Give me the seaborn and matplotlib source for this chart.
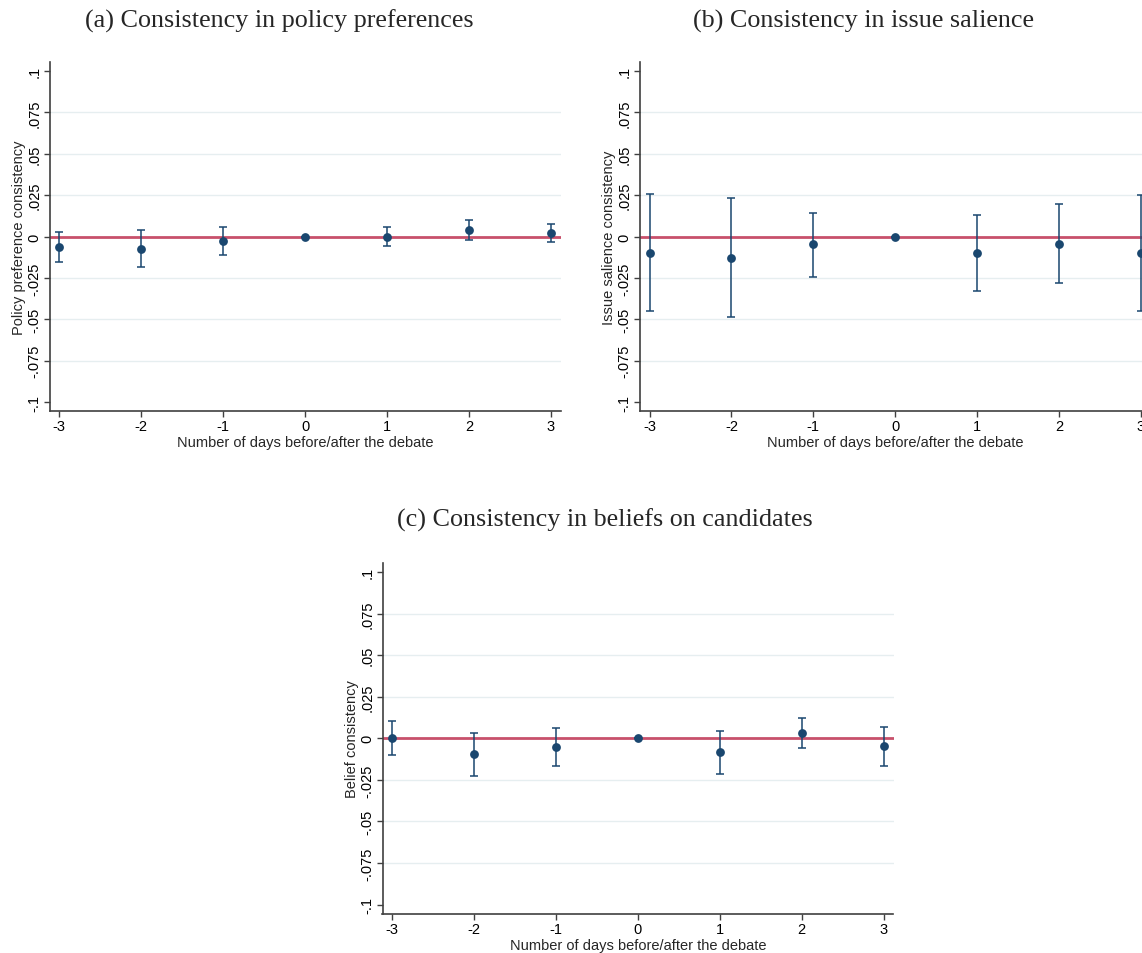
import numpy as np
import pandas as pd
import matplotlib
matplotlib.use("Agg")
import matplotlib.pyplot as plt
import seaborn as sns

# Giorni rispetto al dibattito
days = [-3, -2, -1, 0, 1, 2, 3]

# (a) coerenza nelle preferenze politiche
policy_coef = [-0.0063, -0.0075, -0.0026, 0.0, 0.0, 0.0038, 0.0020]
policy_lo = [-0.0155, -0.0185, -0.0113, 0.0, -0.0058, -0.0024, -0.0034]
policy_hi = [0.0030, 0.0038, 0.0060, 0.0, 0.0058, 0.0099, 0.0075]

# (b) coerenza nella salienza dei temi
salience_coef = [-0.0097, -0.0127, -0.0048, 0.0, -0.0099, -0.0044, -0.0099]
salience_lo = [-0.0450, -0.0484, -0.0242, 0.0, -0.0329, -0.0280, -0.0450]
salience_hi = [0.0256, 0.0234, 0.0143, 0.0, 0.0131, 0.0194, 0.0250]

# (c) coerenza nelle opinioni sui candidati
belief_coef = [0.0002, -0.0097, -0.0054, 0.0, -0.0085, 0.0032, -0.0048]
belief_lo = [-0.0101, -0.0228, -0.0167, 0.0, -0.0214, -0.0060, -0.0167]
belief_hi = [0.0105, 0.0034, 0.0060, 0.0, 0.0046, 0.0123, 0.0070]

y_ticks = [-0.1, -0.075, -0.05, -0.025, 0.0, 0.025, 0.05, 0.075, 0.1]
y_tick_labels = ["-.1", "-.075", "-.05", "-.025", "0", ".025", ".05", ".075", ".1"]

NAVY = "#1a476f"
RED = "#c8506b"
GRID = "#e6eef0"

W, H = 1142, 954
FS = 10.5

sns.set_theme(style="ticks")
plt.rcParams["font.family"] = ["Liberation Sans", "DejaVu Sans"]


def px_axes(fig, x0, y0, x1, y1):
    """Crea un asse a partire da coordinate in pixel (origine in alto a sinistra)."""
    return fig.add_axes([x0 / W, 1 - y1 / H, (x1 - x0) / W, (y1 - y0) / H])


def draw_panel(ax, coef, lo, hi, ylabel):
    df = pd.DataFrame({"day": days, "coef": coef, "lo": lo, "hi": hi})

    # linee di griglia orizzontali (solo interne)
    for t in y_ticks[1:-1]:
        if t != 0:
            ax.axhline(t, color=GRID, lw=1.0, zorder=0)
    ax.axhline(0, color=RED, lw=2.0, zorder=1)

    err = np.vstack([df["coef"] - df["lo"], df["hi"] - df["coef"]])
    ax.errorbar(df["day"], df["coef"], yerr=err, fmt="none",
                ecolor=NAVY, elinewidth=1.1, capsize=3, capthick=1.1, zorder=2)
    sns.scatterplot(data=df, x="day", y="coef", ax=ax, color=NAVY, s=40,
                    edgecolor=NAVY, linewidth=0, zorder=3, legend=False)

    ax.set_xlim(-3.116, 3.122)
    ax.set_ylim(-0.1054, 0.1054)
    ax.set_xticks(days)
    ax.set_xticklabels([str(d) for d in days])
    ax.set_yticks(y_ticks)
    ax.set_yticklabels(y_tick_labels, rotation=90, va="center")
    ax.tick_params(axis="both", direction="out", length=4, width=1.0,
                   color="#404040", labelsize=FS, labelcolor="black", pad=2)
    ax.set_xlabel("Number of days before/after the debate", fontsize=FS, labelpad=1.5)
    ax.set_ylabel(ylabel, fontsize=FS, labelpad=1)
    sns.despine(ax=ax)
    for side in ["left", "bottom"]:
        ax.spines[side].set_color("#404040")
        ax.spines[side].set_linewidth(1.2)
    ax.grid(False)


fig = plt.figure(figsize=(W / 100, H / 100), dpi=100)

ax_a = px_axes(fig, 49.5, 63, 561, 412)
draw_panel(ax_a, policy_coef, policy_lo, policy_hi, "Policy preference consistency")

ax_b = px_axes(fig, 640, 63, 1151, 412)
draw_panel(ax_b, salience_coef, salience_lo, salience_hi, "Issue salience consistency")

ax_c = px_axes(fig, 382.5, 564, 893.5, 914.5)
draw_panel(ax_c, belief_coef, belief_lo, belief_hi, "Belief consistency")

title_font = dict(family=["Liberation Serif", "DejaVu Serif"], fontsize=18.8,
                  ha="center", va="center")
fig.text(279 / W, 1 - 21 / H, "(a) Consistency in policy preferences", **title_font)
fig.text(863.5 / W, 1 - 21 / H, "(b) Consistency in issue salience", **title_font)
fig.text(605 / W, 1 - 520 / H, "(c) Consistency in beliefs on candidates", **title_font)

fig.savefig("out.png", dpi=100)
